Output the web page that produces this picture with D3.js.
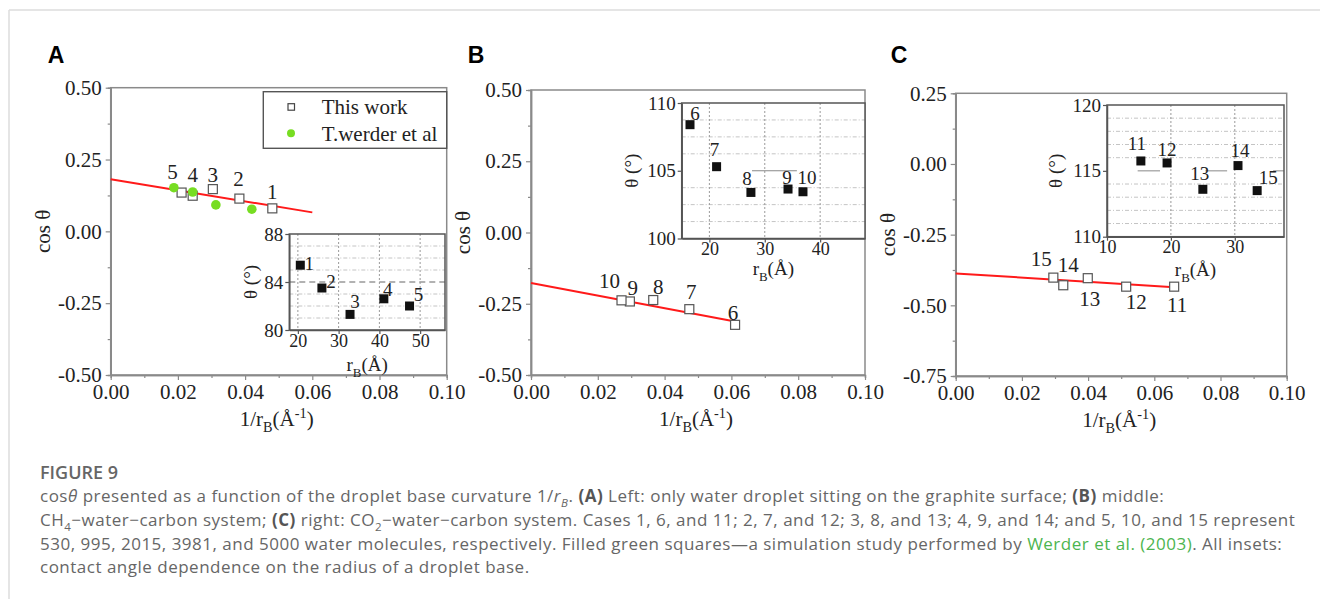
<!DOCTYPE html>
<html>
<head>
<meta charset="utf-8">
<script src="https://cdn.jsdelivr.net/npm/d3@7"></script>
<style>
  body { margin: 0; background: #fff; }
  .serif { font-family: "Liberation Serif", "Times New Roman", serif; }
  .sans { font-family: "Open Sans", "Noto Sans", sans-serif; }
</style>
</head>
<body>
<svg id="fig" width="1320" height="599"></svg>
<script>
// ---- data ----
const xTicksMain = [0, 0.02, 0.04, 0.06, 0.08, 0.10];
const xMinorMain = [0.01, 0.03, 0.05, 0.07, 0.09];
const yTicksAB = [-0.5, -0.25, 0, 0.25, 0.5];
const yTicksC = [-0.75, -0.5, -0.25, 0, 0.25];

// panel A: water on graphite (cases 1-5)
const casesA = ["1", "2", "3", "4", "5"];
const invRA = [0.0481, 0.0383, 0.0304, 0.0244, 0.0211];
const cosA = [0.080, 0.114, 0.147, 0.124, 0.135];
const werderX = [0.0188, 0.0244, 0.0313, 0.0420];
const werderCos = [0.152, 0.137, 0.092, 0.077];
const fitA = [[0, 0.181], [0.060, 0.066]];
const rBA = [20.6, 25.9, 32.8, 41.1, 47.4];
const thetaA = [85.4, 83.5, 81.3, 82.6, 82.0];

// panel B: CH4-water-carbon (cases 6-10)
const casesB = ["6", "7", "8", "9", "10"];
const invRB = [0.0611, 0.0474, 0.0366, 0.0296, 0.0271];
const cosB = [-0.324, -0.269, -0.237, -0.242, -0.238];
const fitB = [[0, -0.177], [0.0615, -0.313]];
const rBB = [16.5, 21.3, 27.5, 34.2, 36.9];
const thetaB = [108.4, 105.3, 103.4, 103.65, 103.45];

// panel C: CO2-water-carbon (cases 11-15)
const casesC = ["11", "12", "13", "14", "15"];
const invRC = [0.066, 0.0515, 0.0399, 0.0325, 0.0295];
const cosC = [-0.434, -0.434, -0.404, -0.429, -0.402];
const fitC = [[0, -0.387], [0.066, -0.436]];
const rBC = [15.3, 19.4, 25.0, 30.5, 33.5];
const thetaC = [115.75, 115.6, 113.6, 115.4, 113.5];

// ---- layout ----
const panels = [
  {
    letter: "A", letterX: 56,
    box: { x0: 110.7, x1: 446.7, y0: 87.7, y1: 375 },
    yDomain: [-0.5, 0.5], yTicks: yTicksAB,
    cases: casesA, xs: invRA, ys: cosA, fit: fitA,
    labelOff: [[0, -17], [-1, -20], [0, -14], [0, -21], [-9, -21]],
    inset: {
      box: { x0: 289.3, x1: 445, y0: 234, y1: 330 },
      xDomain: [17.9, 56.1], yDomain: [80, 88],
      xTicks: [20, 30, 40, 50], yTicks: [80, 84, 88],
      yGrid: [81, 82, 83, 85, 86, 87], majorLine: { y: 84, dashed: true },
      rs: rBA, th: thetaA,
      labelOff: [[9, -2], [9, -7], [5, -13], [4, -9], [9, -12]],
      yTitleX: 250, xTitleY: 365
    }
  },
  {
    letter: "B", letterX: 476,
    box: { x0: 531, x1: 865, y0: 90, y1: 375 },
    yDomain: [-0.5, 0.5], yTicks: yTicksAB,
    cases: casesB, xs: invRB, ys: cosB, fit: fitB,
    labelOff: [[-2, -12], [2, -18], [5, -13], [3, -14], [-12, -20]],
    inset: {
      box: { x0: 681.7, x1: 865, y0: 103, y1: 238.5 },
      xDomain: [15, 48.1], yDomain: [100, 110],
      xTicks: [20, 30, 40], yTicks: [100, 105, 110],
      yGrid: [101.25, 102.5, 103.75, 106.25, 107.5, 108.75], majorLine: { y: 105, segs: [[27.7, 35.8]] },
      rs: rBB, th: thetaB,
      labelOff: [[5, -11], [-2, -17], [-4, -14], [-1, -12], [4, -14]],
      yTitleX: 631, xTitleY: 269
    }
  },
  {
    letter: "C", letterX: 899,
    box: { x0: 955.7, x1: 1286.7, y0: 93.3, y1: 376 },
    yDomain: [-0.75, 0.25], yTicks: yTicksC,
    cases: casesC, xs: invRC, ys: cosC, fit: fitC,
    labelOff: [[3, 18], [10, 15], [2, 20], [5, -21], [-12, -19]],
    inset: {
      box: { x0: 1107, x1: 1284, y0: 105, y1: 236.7 },
      xDomain: [10, 37.7], yDomain: [110, 120],
      xTicks: [10, 20, 30], yTicks: [110, 115, 120],
      yGrid: [111, 112, 113, 114, 116, 117, 118, 119], majorLine: { y: 115, segs: [[14.8, 18.3], [25.4, 28.8], [36, 37.7]] },
      rs: rBC, th: thetaC,
      labelOff: [[-4, -18], [0, -14], [-3, -16], [2, -15], [11, -13]],
      yTitleX: 1055, xTitleY: 270
    }
  }
];

const svg = d3.select("#fig");

// page frame
svg.append("line").attr("x1", 9).attr("x2", 1320).attr("y1", 10).attr("y2", 10)
  .attr("stroke", "#dcdcdc").attr("stroke-width", 1.5);
svg.append("line").attr("x1", 9).attr("x2", 9).attr("y1", 10).attr("y2", 599)
  .attr("stroke", "#dcdcdc").attr("stroke-width", 1.5);

// text with sub/superscripts, parts = ["text", ["B","sub"], ...]
function rich(sel, parts, fs) {
  let shift = 0;
  parts.forEach(p => {
    const [str, st] = typeof p === "string" ? [p, ""] : p;
    const tags = st.split(" ");
    const target = tags.includes("sub") ? fs * 0.3 : tags.includes("sup") ? -fs * 0.38 : 0;
    const t = sel.append("tspan").text(str).attr("dy", target - shift);
    shift = target;
    if (tags.includes("sub") || tags.includes("sup")) t.attr("font-size", fs * 0.68);
    if (tags.includes("b")) t.attr("font-weight", "bold").attr("fill", "#555");
    if (tags.includes("i")) t.attr("font-style", "italic");
    if (tags.includes("g")) t.attr("fill", "#4cb54f");
  });
}

function styleAxis(g, color, fs) {
  g.select(".domain").attr("stroke", color).attr("stroke-width", 1.5);
  g.selectAll(".tick line").attr("stroke", color).attr("stroke-width", 1.2);
  g.selectAll(".tick text").attr("class", "serif").attr("fill", "#222").attr("font-size", fs);
}

const fmt = d => d.toFixed(2);

panels.forEach(p => {
  const b = p.box;
  const x = d3.scaleLinear().domain([0, 0.1]).range([b.x0, b.x1]);
  const y = d3.scaleLinear().domain(p.yDomain).range([b.y1, b.y0]);
  const g = svg.append("g");

  g.append("text").attr("x", p.letterX).attr("y", 63)
    .attr("text-anchor", "middle").attr("font-family", "Liberation Sans, Arial, sans-serif")
    .attr("font-weight", "bold").attr("font-size", 23).text(p.letter);

  // frame
  g.append("rect").attr("x", b.x0).attr("y", b.y0)
    .attr("width", b.x1 - b.x0).attr("height", b.y1 - b.y0)
    .attr("fill", "none").attr("stroke", "#8a8a8a").attr("stroke-width", 1.5);

  // axes
  const yMinor = d3.range(p.yDomain[0] + 0.125, p.yDomain[1], 0.25);
  g.append("g").attr("transform", `translate(${b.x0},0)`)
    .call(d3.axisLeft(y).tickValues(yMinor).tickSize(3).tickFormat(""))
    .call(a => styleAxis(a, "#8a8a8a", 21));
  g.append("g").attr("transform", `translate(0,${b.y1})`)
    .call(d3.axisBottom(x).tickValues(xMinorMain).tickSize(3).tickFormat(""))
    .call(a => styleAxis(a, "#8a8a8a", 21));
  g.append("g").attr("transform", `translate(${b.x0},0)`)
    .call(d3.axisLeft(y).tickValues(p.yTicks).tickSize(5).tickSizeOuter(0).tickPadding(4).tickFormat(fmt))
    .call(a => styleAxis(a, "#8a8a8a", 21));
  g.append("g").attr("transform", `translate(0,${b.y1})`)
    .call(d3.axisBottom(x).tickValues(xTicksMain).tickSize(5).tickSizeOuter(0).tickPadding(4).tickFormat(fmt))
    .call(a => styleAxis(a, "#8a8a8a", 21));

  // axis titles
  const cy = (b.y0 + b.y1) / 2;
  g.append("text").attr("class", "serif").attr("font-size", 21).attr("fill", "#222")
    .attr("text-anchor", "middle")
    .attr("transform", `translate(${b.x0 - 61},${cy}) rotate(-90)`).text("cos θ");
  const xt = g.append("text").attr("class", "serif").attr("font-size", 21).attr("fill", "#222")
    .attr("text-anchor", "middle").attr("x", (b.x0 + b.x1) / 2 - 2).attr("y", b.y1 + 51);
  rich(xt, ["1/r", ["B", "sub"], "(Å", ["-1", "sup"], ")"], 21);

  // fit line
  g.append("path").datum(p.fit)
    .attr("d", d3.line().x(d => x(d[0])).y(d => y(d[1])))
    .attr("stroke", "#ff1a1a").attr("stroke-width", 2).attr("fill", "none");

  // this work squares
  const pts = p.xs.map((v, i) => ({ x: v, y: p.ys[i], c: p.cases[i], o: p.labelOff[i] }));
  g.selectAll(".sq").data(pts).enter().append("rect")
    .attr("x", d => x(d.x) - 4.5).attr("y", d => y(d.y) - 4.5)
    .attr("width", 9).attr("height", 9)
    .attr("fill", "#fff").attr("stroke", "#555").attr("stroke-width", 1.2);

  if (p.letter === "A") {
    g.selectAll(".wd").data(werderX.map((v, i) => [v, werderCos[i]])).enter().append("circle")
      .attr("cx", d => x(d[0])).attr("cy", d => y(d[1])).attr("r", 4.8)
      .attr("fill", "#77dd22");
  }

  g.selectAll(".lb").data(pts).enter().append("text")
    .attr("class", "serif").attr("font-size", 21).attr("fill", "#222")
    .attr("text-anchor", "middle").attr("dy", "0.35em")
    .attr("x", d => x(d.x) + d.o[0]).attr("y", d => y(d.y) + d.o[1]).text(d => d.c);

  // legend (panel A only)
  if (p.letter === "A") {
    const lg = g.append("g");
    lg.append("rect").attr("x", 263.3).attr("y", 91.7).attr("width", b.x1 - 263.3).attr("height", 56.6)
      .attr("fill", "#fff").attr("stroke", "#555").attr("stroke-width", 1.4);
    lg.append("rect").attr("x", 288).attr("y", 103.7).attr("width", 6.5).attr("height", 6.5)
      .attr("fill", "#fff").attr("stroke", "#444").attr("stroke-width", 1.2);
    lg.append("circle").attr("cx", 291).attr("cy", 133.3).attr("r", 4).attr("fill", "#77dd22");
    lg.append("text").attr("class", "serif").attr("font-size", 21).attr("fill", "#222")
      .attr("x", 321.7).attr("y", 106.7).attr("dy", "0.35em").text("This work");
    lg.append("text").attr("class", "serif").attr("font-size", 21).attr("fill", "#222")
      .attr("x", 321.7).attr("y", 133.3).attr("dy", "0.35em").text("T.werder et al");
  }

  // inset
  const s = p.inset, ib = s.box;
  const ix = d3.scaleLinear().domain(s.xDomain).range([ib.x0, ib.x1]);
  const iy = d3.scaleLinear().domain(s.yDomain).range([ib.y1, ib.y0]);
  const ig = g.append("g");
  ig.append("rect").attr("x", ib.x0).attr("y", ib.y0)
    .attr("width", ib.x1 - ib.x0).attr("height", ib.y1 - ib.y0).attr("fill", "#fff");

  ig.selectAll(".hg").data(s.yGrid).enter().append("line")
    .attr("x1", ib.x0).attr("x2", ib.x1).attr("y1", d => iy(d)).attr("y2", d => iy(d))
    .attr("stroke", "#c4c4c4").attr("stroke-width", 1).attr("stroke-dasharray", "4,2,1,2");
  ig.selectAll(".vg").data(s.xTicks.filter(t => t > s.xDomain[0] + 0.5)).enter().append("line")
    .attr("x1", d => ix(d)).attr("x2", d => ix(d)).attr("y1", ib.y0).attr("y2", ib.y1)
    .attr("stroke", "#9a9a9a").attr("stroke-width", 1).attr("stroke-dasharray", "2,2");
  if (s.majorLine.dashed) {
    ig.append("line").attr("x1", ib.x0).attr("x2", ib.x1)
      .attr("y1", iy(s.majorLine.y)).attr("y2", iy(s.majorLine.y))
      .attr("stroke", "#999").attr("stroke-width", 1.3).attr("stroke-dasharray", "6,4");
  } else {
    ig.selectAll(".ml").data(s.majorLine.segs).enter().append("line")
      .attr("x1", d => ix(d[0])).attr("x2", d => ix(d[1]))
      .attr("y1", iy(s.majorLine.y)).attr("y2", iy(s.majorLine.y))
      .attr("stroke", "#888").attr("stroke-width", 1);
  }

  ig.append("rect").attr("x", ib.x0).attr("y", ib.y0)
    .attr("width", ib.x1 - ib.x0).attr("height", ib.y1 - ib.y0)
    .attr("fill", "none").attr("stroke", "#555").attr("stroke-width", 1.5);
  ig.append("g").attr("transform", `translate(${ib.x0},0)`)
    .call(d3.axisLeft(iy).tickValues(s.yTicks).tickSize(4).tickSizeOuter(0).tickPadding(2).tickFormat(d3.format("d")))
    .call(a => styleAxis(a, "#555", 19));
  ig.append("g").attr("transform", `translate(0,${ib.y1})`)
    .call(d3.axisBottom(ix).tickValues(s.xTicks).tickSize(4).tickSizeOuter(0).tickPadding(0).tickFormat(d3.format("d")))
    .call(a => styleAxis(a, "#555", 18));

  const ipts = s.rs.map((v, i) => ({ x: v, y: s.th[i], c: p.cases[i], o: s.labelOff[i] }));
  ig.selectAll(".fs").data(ipts).enter().append("rect")
    .attr("x", d => ix(d.x) - 4.5).attr("y", d => iy(d.y) - 4.5)
    .attr("width", 9).attr("height", 9).attr("fill", "#111");
  ig.selectAll(".il").data(ipts).enter().append("text")
    .attr("class", "serif").attr("font-size", 19).attr("fill", "#222")
    .attr("text-anchor", "middle").attr("dy", "0.35em")
    .attr("x", d => ix(d.x) + d.o[0]).attr("y", d => iy(d.y) + d.o[1]).text(d => d.c);

  ig.append("text").attr("class", "serif").attr("font-size", 19).attr("fill", "#222")
    .attr("text-anchor", "middle")
    .attr("transform", `translate(${s.yTitleX},${(ib.y0 + ib.y1) / 2}) rotate(-90)`)
    .attr("dy", "0.35em").text("θ (°)");
  const ixt = ig.append("text").attr("class", "serif").attr("font-size", 19).attr("fill", "#222")
    .attr("text-anchor", "middle").attr("x", (ib.x0 + ib.x1) / 2).attr("y", s.xTitleY + 6);
  rich(ixt, ["r", ["B", "sub"], "(Å)"], 19);
});

// ---- caption ----
const cap = svg.append("g").attr("class", "sans").attr("fill", "#666");
cap.append("text").attr("x", 40).attr("y", 479).attr("font-size", 18)
  .attr("font-weight", 600).attr("fill", "#666").text("FIGURE 9");
const capLines = [
  ["cos", ["θ", "i"], " presented as a function of the droplet base curvature 1/", ["r", "i"], ["B", "sub i"],
   ". ", ["(A)", "b"], " Left: only water droplet sitting on the graphite surface; ", ["(B)", "b"], " middle:"],
  ["CH", ["4", "sub"], "−water−carbon system; ", ["(C)", "b"], " right: CO", ["2", "sub"],
   "−water−carbon system. Cases 1, 6, and 11; 2, 7, and 12; 3, 8, and 13; 4, 9, and 14; and 5, 10, and 15 represent"],
  ["530, 995, 2015, 3981, and 5000 water molecules, respectively. Filled green squares—a simulation study performed by ",
   ["Werder et al. (2003)", "g"], ". All insets:"],
  ["contact angle dependence on the radius of a droplet base."]
];
const capBase = [501.5, 525.5, 549.5, 573];
capLines.forEach((ln, i) => {
  const t = cap.append("text").attr("x", 40).attr("y", capBase[i])
    .attr("font-size", 17).attr("letter-spacing", 0.5);
  rich(t, ln, 17);
});
</script>
</body>
</html>
